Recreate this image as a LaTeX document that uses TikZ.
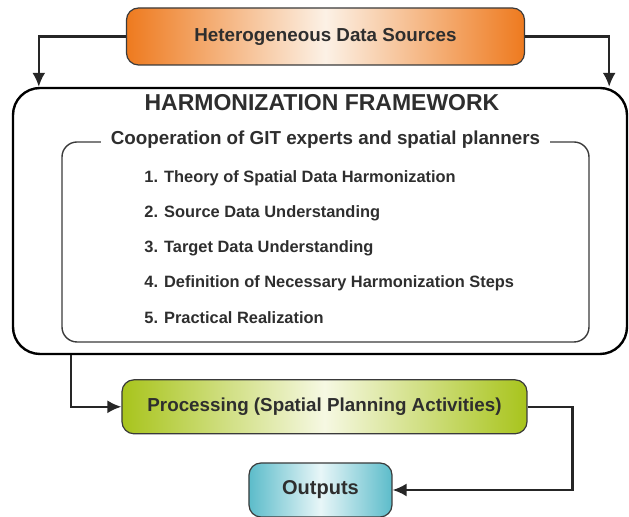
\documentclass[tikz,border=0pt]{standalone}
\usepackage{fontspec}
\setmainfont{Liberation Sans}
\usepackage{tikz}
\usetikzlibrary{arrows.meta, shapes, positioning}

\definecolor{srcedge}{HTML}{EE7A1E}
\definecolor{srcmid}{HTML}{FCF1E6}
\definecolor{procedge}{HTML}{A8C41C}
\definecolor{procmid}{HTML}{F6F8E2}
\definecolor{outedge}{HTML}{5CBCCA}
\definecolor{outmid}{HTML}{E8F6F8}
\definecolor{textgray}{HTML}{2E2E2E}
\definecolor{linegray}{HTML}{3A3A3A}

\begin{document}
\begin{tikzpicture}[
  x=0.5pt, y=-0.5pt,
  >={Latex[length=7pt,width=6.5pt]},
  font=\fontsize{9.4pt}{11pt}\selectfont\bfseries,
  text=textgray,
  box/.style={
    rectangle, rounded corners=6pt,
    draw=linegray, line width=0.6pt,
    minimum height=27pt,
    align=center
  },
  frame/.style={
    rectangle, rounded corners=13.5pt,
    draw=black, line width=1.2pt,
    minimum width=307pt, minimum height=133pt
  },
  inner/.style={
    rectangle, rounded corners=7.5pt,
    draw=linegray, line width=0.7pt,
    minimum width=263.5pt, minimum height=100pt
  },
  item/.style={
    anchor=west, inner sep=0pt,
    font=\fontsize{8.2pt}{10pt}\selectfont\bfseries
  },
  arrow/.style={->, line width=1.1pt, draw=black!85}
]
\useasboundingbox (0,0) rectangle (629,517);

% Top node
\node[box, minimum width=199pt, minimum height=28.5pt,
  left color=srcedge, right color=srcedge, middle color=srcmid]
  (sources) at (325.5,36.5) {Heterogeneous Data Sources};

% Framework
\node[frame] (framework) at (320,221) {};
\node[font=\fontsize{11.5pt}{14pt}\selectfont\bfseries] (title) at (322,103) {HARMONIZATION FRAMEWORK};

\node[inner] (coop) at (325.5,242) {};
\node[fill=white, inner xsep=5pt, inner ysep=1pt] (caption) at (325.5,140)
  {Cooperation of GIT experts and spatial planners};

\node[item] (step1) at (144,178) {1. Theory of Spatial Data Harmonization};
\node[item, below=17.5pt of step1.west, anchor=west] (step2) {2. Source Data Understanding};
\node[item, below=17.5pt of step2.west, anchor=west] (step3) {3. Target Data Understanding};
\node[item, below=17.5pt of step3.west, anchor=west] (step4) {4. Definition of Necessary Harmonization Steps};
\node[item, below=17.5pt of step4.west, anchor=west] (step5) {5. Practical Realization};

% Bottom nodes
\node[box, below=12pt of framework, xshift=2.25pt, minimum width=202.5pt,
  left color=procedge, right color=procedge, middle color=procmid]
  (processing) {Processing (Spatial Planning Activities)};

\node[box, below=14pt of processing, xshift=-2pt, minimum width=71.5pt,
  font=\fontsize{10pt}{12pt}\selectfont\bfseries,
  left color=outedge, right color=outedge, middle color=outmid]
  (outputs) {Outputs};

% Arrows
\draw[arrow] (sources.west) -| ([xshift=13.5pt]framework.north west);
\draw[arrow] (sources.east) -| ([xshift=-9.5pt]framework.north east);
\draw[arrow] ([xshift=29.5pt]framework.south west) |- (processing.west);
\draw[arrow] (processing.east) -- ++(22.5pt,0) |- (outputs.east);

\end{tikzpicture}
\end{document}
